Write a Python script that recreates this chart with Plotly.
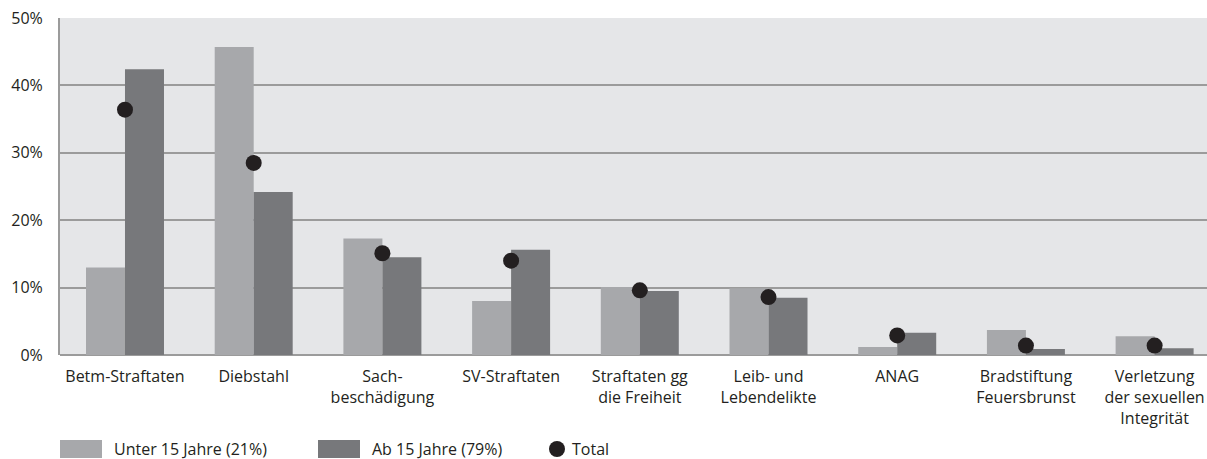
import plotly.graph_objects as go

categories = [
    "Betm-Straftaten", "Diebstahl", "Sach-<br>beschädigung", "SV-Straftaten",
    "Straftaten gg<br>die Freiheit", "Leib- und<br>Lebendelikte", "ANAG",
    "Bradstiftung<br>Feuersbrunst", "Verletzung<br>der sexuellen<br>Integrität",
]
unter15 = [13.0, 45.7, 17.3, 8.0, 10.1, 9.9, 1.2, 3.7, 2.8]
ab15 = [42.4, 24.2, 14.5, 15.6, 9.5, 8.5, 3.3, 0.9, 1.0]
total = [36.4, 28.5, 15.1, 14.0, 9.6, 8.6, 2.9, 1.4, 1.4]
series_names = ["Unter 15 Jahre (21%)", "Ab 15 Jahre (79%)", "Total"]
y_ticks = [0, 10, 20, 30, 40, 50]

c_unter = "#a7a8ab"
c_ab = "#77787b"
c_dot = "#231f20"
txt = "#231f20"
font_family = "Open Sans"
fs = 16

fig = go.Figure()
fig.add_trace(go.Bar(x=categories, y=unter15, name=series_names[0],
                     marker=dict(color=c_unter, line=dict(width=0))))
fig.add_trace(go.Bar(x=categories, y=ab15, name=series_names[1],
                     marker=dict(color=c_ab, line=dict(width=0))))
fig.add_trace(go.Scatter(x=categories, y=total, name=series_names[2], mode="markers",
                         marker=dict(color=c_dot, size=16, line=dict(width=0))))

W, H = 1207, 459
L, R, T, B = 60, 0, 18, 104
pw = W - L - R
ph = H - T - B

def px_x(x):
    return (x - L) / pw

def px_y(y):
    return (H - B - y) / ph

fig.update_layout(
    width=W, height=H,
    margin=dict(l=L, r=R, t=T, b=B),
    paper_bgcolor="white",
    plot_bgcolor="#e5e6e8",
    barmode="group",
    bargap=0.394,
    bargroupgap=0,
    showlegend=False,
    font=dict(family=font_family, size=fs, color=txt),
)
fig.update_xaxes(
    range=[-0.505, 8.407],
    showgrid=False,
    showline=False,
    ticks="",
    ticklabelstandoff=10,
    tickfont=dict(size=fs, color=txt),
)
fig.update_yaxes(
    range=[0, 50],
    tickvals=y_ticks,
    ticktext=[f"{v}%" for v in y_ticks],
    showgrid=True,
    gridcolor="#9b9b9b",
    gridwidth=2,
    showline=True,
    linecolor="#9b9b9b",
    linewidth=2,
    zeroline=True,
    zerolinecolor="#9b9b9b",
    zerolinewidth=2,
    ticks="",
    ticklabelstandoff=12,
    tickfont=dict(size=fs, color=txt),
)

# manual legend
ly0, ly1 = px_y(440), px_y(458)
lyc = px_y(449)
fig.add_shape(type="rect", xref="paper", yref="paper",
              x0=px_x(60), x1=px_x(102), y0=ly1, y1=ly0,
              fillcolor=c_unter, line=dict(width=0))
fig.add_annotation(xref="paper", yref="paper", x=px_x(112), y=lyc,
                   text=series_names[0], showarrow=False,
                   xanchor="left", yanchor="middle", font=dict(size=fs, color=txt))
fig.add_shape(type="rect", xref="paper", yref="paper",
              x0=px_x(318), x1=px_x(360), y0=ly1, y1=ly0,
              fillcolor=c_ab, line=dict(width=0))
fig.add_annotation(xref="paper", yref="paper", x=px_x(370), y=lyc,
                   text=series_names[1], showarrow=False,
                   xanchor="left", yanchor="middle", font=dict(size=fs, color=txt))
fig.add_shape(type="circle", xref="paper", yref="paper",
              xsizemode="pixel", ysizemode="pixel",
              xanchor=px_x(557), yanchor=lyc,
              x0=-8, x1=8, y0=-8, y1=8,
              fillcolor=c_dot, line=dict(width=0))
fig.add_annotation(xref="paper", yref="paper", x=px_x(570), y=lyc,
                   text=series_names[2], showarrow=False,
                   xanchor="left", yanchor="middle", font=dict(size=fs, color=txt))

fig.write_html(
    "out.html",
    config={"displayModeBar": False},
    post_script="document.body.style.margin='0';document.body.style.overflow='hidden';",
)
